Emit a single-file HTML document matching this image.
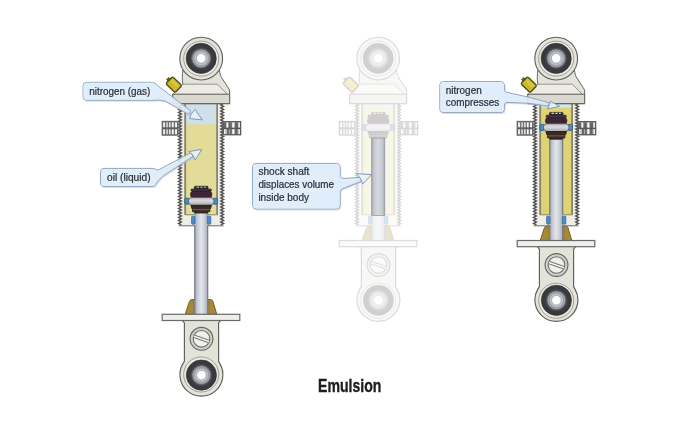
<!DOCTYPE html>
<html><head><meta charset="utf-8"><title>Emulsion</title>
<style>
html,body{margin:0;padding:0;background:#fff;}
body{width:700px;height:422px;overflow:hidden;font-family:"Liberation Sans",sans-serif;}
svg{display:block;filter:blur(0.45px);}
.lb{font-family:"Liberation Sans",sans-serif;font-size:10.4px;fill:#2b2f34;stroke:#2b2f34;stroke-width:0.22px;}
.ttl{font-family:"Liberation Sans",sans-serif;font-size:17.6px;font-weight:bold;fill:#1e1e1e;stroke:#1e1e1e;stroke-width:0.35px;}
</style></head><body>
<svg width="700" height="422" viewBox="0 0 700 422">
<defs>
<linearGradient id="gasoil1" x1="0" x2="0" y1="0" y2="1"><stop offset="0" stop-color="#cfe0ea"/><stop offset="1" stop-color="#e3dc98"/></linearGradient>
<linearGradient id="gasoil2" x1="0" x2="0" y1="0" y2="1"><stop offset="0" stop-color="#d6e6ee"/><stop offset="1" stop-color="#dfd474"/></linearGradient>

<g id="eye">
  <circle r="15.1" fill="#3a3a3e" stroke="#2c2c30" stroke-width="0.6"/>
  <circle r="11" fill="#46464b"/>
  <circle r="9.5" fill="#9b9fa7" stroke="#5e6168" stroke-width="0.9"/>
  <circle r="6.7" fill="#c0c3c9"/>
  <circle r="4.8" fill="#ffffff" stroke="#90939a" stroke-width="0.7"/>
</g>
<g id="mount">
  <path d="M-18.4,70 C-19,75 -19.2,80 -18.3,84.2 L-28.4,94.3 L-28.4,103.6 L28.4,103.6 L28.4,90 L19.8,76.6 C19.2,75.4 18.6,73 18.3,70" fill="#e3e3da" stroke="#686868" stroke-width="1"/>
  <path d="M-18.3,84.2 L16.1,84.2 L26.1,94.3 L-28.4,94.3 Z" fill="#ecece5" stroke="#808080" stroke-width="0.8"/>
  <path d="M-28.4,94.3 L28.4,94.3 L28.4,103.6 L-28.4,103.6 Z" fill="#dad9cf" stroke="#6a6a6a" stroke-width="1.1"/>
  <circle cx="0" cy="58.6" r="21.4" fill="#e3e3da" stroke="#606060" stroke-width="1.1"/>
  <circle cx="0" cy="58.6" r="17.5" fill="#ebebe4" stroke="#8c8c86" stroke-width="0.8"/>
  <use href="#eye" x="0" y="58.4"/>
</g>
<g id="valve" transform="translate(-27.4,84.6) rotate(44)">
  <rect x="-8.6" y="-1.5" width="2.6" height="3" fill="#6d6618" stroke="#4e4a18" stroke-width="0.8"/>
  <rect x="-6.5" y="-4.9" width="13" height="9.8" rx="1.6" fill="#c9b92a" stroke="#4e4a18" stroke-width="1.3"/>
  <rect x="-4.5" y="-3.3" width="9" height="3.4" rx="1" fill="#d8cb45" opacity="0.8"/>
</g><g id="nut">
<rect x="0.2" y="0.2" width="15.4" height="13.4" fill="#fafafa" stroke="#666" stroke-width="1.5"/>
<line x1="3.4" y1="0" x2="3.4" y2="13.6" stroke="#707070" stroke-width="1.4"/>
<line x1="6.3" y1="0" x2="6.3" y2="13.6" stroke="#707070" stroke-width="1.4"/>
<line x1="9.0" y1="0" x2="9.0" y2="13.6" stroke="#707070" stroke-width="1.4"/>
<line x1="12.2" y1="0" x2="12.2" y2="13.6" stroke="#707070" stroke-width="1.4"/>
<line x1="0" y1="6.9" x2="15.6" y2="6.9" stroke="#5c5c5c" stroke-width="2"/>
<rect x="3.4" y="0.9" width="2.9" height="12" fill="#888" opacity="0.25"/>
</g><g id="nutR">
<rect x="0.2" y="0.2" width="17.2" height="13" fill="#fbfbfb" stroke="#5e5e5e" stroke-width="1.4"/>
<rect x="0" y="0.8" width="2.8" height="5.8" fill="#666"/>
<rect x="5.5" y="0.8" width="3.1" height="5.8" fill="#666"/>
<rect x="11.7" y="0.8" width="3.1" height="5.8" fill="#666"/>
<rect x="3.7" y="7.4" width="2.3" height="5.2" fill="#666"/>
<rect x="6.5" y="7.4" width="2.1" height="5.2" fill="#666"/>
<rect x="11.7" y="7.4" width="2.8" height="5.2" fill="#666"/>
<line x1="0" y1="6.9" x2="17.4" y2="6.9" stroke="#555" stroke-width="1.5"/>
<line x1="2.8" y1="0" x2="2.8" y2="13.2" stroke="#6a6a6a" stroke-width="0.7"/>
<line x1="5.5" y1="0" x2="5.5" y2="13.2" stroke="#6a6a6a" stroke-width="0.7"/>
<line x1="8.6" y1="0" x2="8.6" y2="13.2" stroke="#6a6a6a" stroke-width="0.7"/>
<line x1="11.7" y1="0" x2="11.7" y2="13.2" stroke="#6a6a6a" stroke-width="0.7"/>
<line x1="14.8" y1="0" x2="14.8" y2="13.2" stroke="#6a6a6a" stroke-width="0.7"/>
</g>
<g id="bodywalls">
  <polygon points="-22.70,103.40 -19.80,104.90 -22.70,106.40 -19.80,107.90 -22.70,109.40 -19.80,110.90 -22.70,112.40 -19.80,113.90 -22.70,115.40 -19.80,116.90 -22.70,118.40 -19.80,119.90 -22.70,121.40 -19.80,122.90 -22.70,124.40 -19.80,125.90 -22.70,127.40 -19.80,128.90 -22.70,130.40 -19.80,131.90 -22.70,133.40 -19.80,134.90 -22.70,136.40 -19.80,137.90 -22.70,139.40 -19.80,140.90 -22.70,142.40 -19.80,143.90 -22.70,145.40 -19.80,146.90 -22.70,148.40 -19.80,149.90 -22.70,151.40 -19.80,152.90 -22.70,154.40 -19.80,155.90 -22.70,157.40 -19.80,158.90 -22.70,160.40 -19.80,161.90 -22.70,163.40 -19.80,164.90 -22.70,166.40 -19.80,167.90 -22.70,169.40 -19.80,170.90 -22.70,172.40 -19.80,173.90 -22.70,175.40 -19.80,176.90 -22.70,178.40 -19.80,179.90 -22.70,181.40 -19.80,182.90 -22.70,184.40 -19.80,185.90 -22.70,187.40 -19.80,188.90 -22.70,190.40 -19.80,191.90 -22.70,193.40 -19.80,194.90 -22.70,196.40 -19.80,197.90 -22.70,199.40 -19.80,200.90 -22.70,202.40 -19.80,203.90 -22.70,205.40 -19.80,206.90 -22.70,208.40 -19.80,209.90 -22.70,211.40 -19.80,212.90 -22.70,214.40 -19.80,215.90 -22.70,217.40 -19.80,218.90 -22.70,220.40 -19.80,221.90 -22.70,223.40 -19.80,224.90 -15.90,225.80 -15.90,103.40" fill="#efeee6"/>
  <polygon points="22.40,103.40 19.50,104.90 22.40,106.40 19.50,107.90 22.40,109.40 19.50,110.90 22.40,112.40 19.50,113.90 22.40,115.40 19.50,116.90 22.40,118.40 19.50,119.90 22.40,121.40 19.50,122.90 22.40,124.40 19.50,125.90 22.40,127.40 19.50,128.90 22.40,130.40 19.50,131.90 22.40,133.40 19.50,134.90 22.40,136.40 19.50,137.90 22.40,139.40 19.50,140.90 22.40,142.40 19.50,143.90 22.40,145.40 19.50,146.90 22.40,148.40 19.50,149.90 22.40,151.40 19.50,152.90 22.40,154.40 19.50,155.90 22.40,157.40 19.50,158.90 22.40,160.40 19.50,161.90 22.40,163.40 19.50,164.90 22.40,166.40 19.50,167.90 22.40,169.40 19.50,170.90 22.40,172.40 19.50,173.90 22.40,175.40 19.50,176.90 22.40,178.40 19.50,179.90 22.40,181.40 19.50,182.90 22.40,184.40 19.50,185.90 22.40,187.40 19.50,188.90 22.40,190.40 19.50,191.90 22.40,193.40 19.50,194.90 22.40,196.40 19.50,197.90 22.40,199.40 19.50,200.90 22.40,202.40 19.50,203.90 22.40,205.40 19.50,206.90 22.40,208.40 19.50,209.90 22.40,211.40 19.50,212.90 22.40,214.40 19.50,215.90 22.40,217.40 19.50,218.90 22.40,220.40 19.50,221.90 22.40,223.40 19.50,224.90 15.90,225.80 15.90,103.40" fill="#efeee6"/>
  <polyline points="-22.70,103.40 -19.80,104.90 -22.70,106.40 -19.80,107.90 -22.70,109.40 -19.80,110.90 -22.70,112.40 -19.80,113.90 -22.70,115.40 -19.80,116.90 -22.70,118.40 -19.80,119.90 -22.70,121.40 -19.80,122.90 -22.70,124.40 -19.80,125.90 -22.70,127.40 -19.80,128.90 -22.70,130.40 -19.80,131.90 -22.70,133.40 -19.80,134.90 -22.70,136.40 -19.80,137.90 -22.70,139.40 -19.80,140.90 -22.70,142.40 -19.80,143.90 -22.70,145.40 -19.80,146.90 -22.70,148.40 -19.80,149.90 -22.70,151.40 -19.80,152.90 -22.70,154.40 -19.80,155.90 -22.70,157.40 -19.80,158.90 -22.70,160.40 -19.80,161.90 -22.70,163.40 -19.80,164.90 -22.70,166.40 -19.80,167.90 -22.70,169.40 -19.80,170.90 -22.70,172.40 -19.80,173.90 -22.70,175.40 -19.80,176.90 -22.70,178.40 -19.80,179.90 -22.70,181.40 -19.80,182.90 -22.70,184.40 -19.80,185.90 -22.70,187.40 -19.80,188.90 -22.70,190.40 -19.80,191.90 -22.70,193.40 -19.80,194.90 -22.70,196.40 -19.80,197.90 -22.70,199.40 -19.80,200.90 -22.70,202.40 -19.80,203.90 -22.70,205.40 -19.80,206.90 -22.70,208.40 -19.80,209.90 -22.70,211.40 -19.80,212.90 -22.70,214.40 -19.80,215.90 -22.70,217.40 -19.80,218.90 -22.70,220.40 -19.80,221.90 -22.70,223.40 -19.80,224.90" fill="none" stroke="#505050" stroke-width="1.35"/>
  <polyline points="22.40,103.40 19.50,104.90 22.40,106.40 19.50,107.90 22.40,109.40 19.50,110.90 22.40,112.40 19.50,113.90 22.40,115.40 19.50,116.90 22.40,118.40 19.50,119.90 22.40,121.40 19.50,122.90 22.40,124.40 19.50,125.90 22.40,127.40 19.50,128.90 22.40,130.40 19.50,131.90 22.40,133.40 19.50,134.90 22.40,136.40 19.50,137.90 22.40,139.40 19.50,140.90 22.40,142.40 19.50,143.90 22.40,145.40 19.50,146.90 22.40,148.40 19.50,149.90 22.40,151.40 19.50,152.90 22.40,154.40 19.50,155.90 22.40,157.40 19.50,158.90 22.40,160.40 19.50,161.90 22.40,163.40 19.50,164.90 22.40,166.40 19.50,167.90 22.40,169.40 19.50,170.90 22.40,172.40 19.50,173.90 22.40,175.40 19.50,176.90 22.40,178.40 19.50,179.90 22.40,181.40 19.50,182.90 22.40,184.40 19.50,185.90 22.40,187.40 19.50,188.90 22.40,190.40 19.50,191.90 22.40,193.40 19.50,194.90 22.40,196.40 19.50,197.90 22.40,199.40 19.50,200.90 22.40,202.40 19.50,203.90 22.40,205.40 19.50,206.90 22.40,208.40 19.50,209.90 22.40,211.40 19.50,212.90 22.40,214.40 19.50,215.90 22.40,217.40 19.50,218.90 22.40,220.40 19.50,221.90 22.40,223.40 19.50,224.90" fill="none" stroke="#505050" stroke-width="1.35"/>
  <line x1="-15.9" y1="103.4" x2="-15.9" y2="215" stroke="#86846a" stroke-width="1.6"/>
  <line x1="15.9" y1="103.4" x2="15.9" y2="215" stroke="#86846a" stroke-width="1.6"/>
</g>
<g id="bodycap">
  <rect x="-15.9" y="214.8" width="10" height="11.0" fill="#efeee6"/>
  <rect x="6.2" y="214.8" width="10" height="11.0" fill="#efeee6"/>
  <rect x="-9.6" y="216.2" width="3.4" height="8" rx="0.8" fill="#4a8fc9" stroke="#2d5f96" stroke-width="0.7"/>
  <rect x="6.2" y="216.2" width="3.4" height="8" rx="0.8" fill="#4a8fc9" stroke="#2d5f96" stroke-width="0.7"/>
  <line x1="-22.7" y1="225.8" x2="-6" y2="225.8" stroke="#6a6a6a" stroke-width="1"/>
  <line x1="6" y1="225.8" x2="22.4" y2="225.8" stroke="#6a6a6a" stroke-width="1"/>
  <line x1="-15.9" y1="214.8" x2="-6" y2="214.8" stroke="#86846a" stroke-width="1"/>
  <line x1="6" y1="214.8" x2="15.9" y2="214.8" stroke="#86846a" stroke-width="1"/>
</g>
<linearGradient id="shaftg" x1="0" x2="1" y1="0" y2="0">
  <stop offset="0" stop-color="#a6a9b2"/><stop offset="0.22" stop-color="#c8ccd4"/><stop offset="0.5" stop-color="#e2e5eb"/><stop offset="0.78" stop-color="#c8ccd4"/><stop offset="1" stop-color="#a6a9b2"/>
</linearGradient>
<linearGradient id="shaftd" x1="0" x2="1" y1="0" y2="0">
  <stop offset="0" stop-color="#a0a3ab"/><stop offset="0.15" stop-color="#c4c7ce"/><stop offset="0.5" stop-color="#d5d8de"/><stop offset="0.85" stop-color="#c4c7ce"/><stop offset="1" stop-color="#a0a3ab"/>
</linearGradient>
<linearGradient id="bandg" x1="0" x2="0" y1="0" y2="1">
  <stop offset="0" stop-color="#b8b8bc"/><stop offset="0.4" stop-color="#dcdcde"/><stop offset="1" stop-color="#a8a8ac"/>
</linearGradient>
<g id="shaft">
  <rect x="-6.45" y="10" width="12.9" height="103.5" fill="url(#shaftg)" stroke="#7c7f87" stroke-width="1.3"/>
</g>
<g id="piston">
  <rect x="-6.8" y="-15.2" width="13.6" height="3.2" rx="0.8" fill="#2e2a2e" stroke="#1f1a1e" stroke-width="0.6"/>
  <path d="M-4.6,-14.2 h2.4 M-0.8,-14.2 h2.2 M2.8,-14.2 h1.8" stroke="#c9c9c9" stroke-width="1.1" fill="none"/>
  <rect x="-10.2" y="-12.3" width="20.4" height="2" rx="0.9" fill="#5a4a52" stroke="#1f1a1e" stroke-width="0.8"/>
  <path d="M-8.6,-10.4 L8.6,-10.4 C10.6,-9.4 11,-7 10.4,-5.6 C10.2,-4.6 9.8,-4 9.2,-3.4 L-9.2,-3.4 C-9.8,-4 -10.2,-4.6 -10.4,-5.6 C-11,-7 -10.6,-9.4 -8.6,-10.4 Z" fill="#3d2438" stroke="#1f1a1e" stroke-width="0.8"/>
  <rect x="-16.4" y="-3.2" width="4.6" height="6" rx="1" fill="#4a8fc4" stroke="#2a557f" stroke-width="0.8"/>
  <rect x="11.8" y="-3.2" width="4.6" height="6" rx="1" fill="#4a8fc4" stroke="#2a557f" stroke-width="0.8"/>
  <path d="M-10,-3.9 L10,-3.9 C12.2,-3 12.8,-1 12.8,0 C12.8,1 12.2,3 10,3.9 L-10,3.9 C-12.2,3 -12.8,1 -12.8,0 C-12.8,-1 -12.2,-3 -10,-3.9 Z" fill="url(#bandg)" stroke="#55555a" stroke-width="0.9"/>
  <path d="M-10.2,3.9 L10.2,3.9 C10,6 9.2,7.6 8.6,8.2 L8.8,10.2 L6.4,10.4 L6.2,11.6 L-6.2,11.6 L-6.4,10.4 L-8.8,10.2 L-8.6,8.2 C-9.2,7.6 -10,6 -10.2,3.9 Z" fill="#3a2a26" stroke="#1f1a1e" stroke-width="0.8"/>
  <line x1="-8.4" y1="8.3" x2="8.4" y2="8.3" stroke="#8a7440" stroke-width="0.8"/>
</g>
<g id="lower" transform="translate(0,0.5)">
  <path d="M-16,112.4 L-11.8,99.6 Q-11.2,97.6 -9,97.6 L9,97.6 Q11.2,97.6 11.8,99.6 L15.6,112.4 Z" fill="#a68a38" stroke="#6a5a24" stroke-width="0.9"/>
  <path d="M-9.6,98 C-8.6,101 -8,106 -8.2,112.4 L8.2,112.4 C8,106 8.6,101 9.6,98 Z" fill="#8f7629" opacity="0.5"/>
</g>

</defs>
<rect width="700" height="422" fill="#ffffff"/>
<g transform="translate(201.2,0)">
<use href="#bodywalls"/>
<rect x="-15.3" y="103.4" width="30.6" height="111.6" fill="#e3dc98"/>
<rect x="-15.3" y="103.4" width="30.6" height="20.799999999999997" fill="#cfe0ea"/>
<rect x="-15.3" y="123.2" width="30.6" height="2" fill="url(#gasoil1)"/>
<line x1="-15.9" y1="103.4" x2="-15.9" y2="215" stroke="#86846a" stroke-width="1.6"/>
<line x1="15.9" y1="103.4" x2="15.9" y2="215" stroke="#86846a" stroke-width="1.6"/>
<g transform="translate(0,201.4)"><use href="#lower"/><use href="#shaft"/><use href="#piston"/></g>
<use href="#bodycap"/>
<g transform="translate(0,201.4)"><g transform="translate(0,0.5)">
  <path d="M-19.2,118 L-16.8,121 L-16.8,159.4 Q-17.2,160.4 -18.4,162.0 A21.5,21.5 0 1 0 18.8,162.0 Q17.8,160.4 17.4,159.4 L17.4,121 L19.8,118 Z" fill="#e3e3da" stroke="#5e5e5e" stroke-width="1.15"/>
  <circle cx="0" cy="172.6" r="17.5" fill="#ebebe4" stroke="#8c8c86" stroke-width="0.8"/>
  <use href="#eye" x="0.2" y="173.2"/>
  <rect x="-39" y="112.4" width="77.6" height="6.2" fill="#efefe9" stroke="#6a6a6a" stroke-width="1.2"/>
  <g transform="translate(0.3,136.9)">
    <circle r="11.4" fill="#d0d0c8" stroke="#646464" stroke-width="1.1"/>
    <circle r="8.3" fill="#efefeb" stroke="#6c6c6c" stroke-width="1.1"/>
    <path d="M-7.2,-2.4 L7.2,2.6" stroke="#6a6a6a" stroke-width="3.3" fill="none"/>
    <path d="M-7.6,-2.55 L7.6,2.75" stroke="#f4f4f0" stroke-width="1.5" fill="none"/>
  </g>
</g></g>
<use href="#nut" x="-39" y="121.4"/>
<use href="#nutR" x="22" y="121.5"/>
<use href="#mount"/>
<use href="#valve"/>
</g><g transform="translate(378.2,0)" opacity="0.23">
<use href="#bodywalls"/>
<rect x="-15.3" y="103.4" width="30.6" height="111.6" fill="#e3dc98"/>
<rect x="-15.3" y="103.4" width="30.6" height="4.199999999999989" fill="#cfe0ea"/>
<rect x="-15.3" y="106.6" width="30.6" height="2" fill="url(#gasoil1)"/>
<line x1="-15.9" y1="103.4" x2="-15.9" y2="215" stroke="#86846a" stroke-width="1.6"/>
<line x1="15.9" y1="103.4" x2="15.9" y2="215" stroke="#86846a" stroke-width="1.6"/>
<g transform="translate(0,127.6)"><use href="#lower"/><use href="#shaft"/><use href="#piston"/></g>
<use href="#bodycap"/>
<g transform="translate(0,127.6)"><g transform="translate(0,0.5)">
  <path d="M-19.2,118 L-16.8,121 L-16.8,158.4 Q-17.2,159.4 -18.4,161.0 A21.5,21.5 0 1 0 18.8,161.0 Q17.8,159.4 17.4,158.4 L17.4,121 L19.8,118 Z" fill="#e3e3da" stroke="#5e5e5e" stroke-width="1.15"/>
  <circle cx="0" cy="172.6" r="17.5" fill="#ebebe4" stroke="#8c8c86" stroke-width="0.8"/>
  <use href="#eye" x="0.2" y="172.2"/>
  <rect x="-39" y="112.4" width="77.6" height="6.2" fill="#efefe9" stroke="#6a6a6a" stroke-width="1.2"/>
  <g transform="translate(0.3,136.9)">
    <circle r="11.4" fill="#d0d0c8" stroke="#646464" stroke-width="1.1"/>
    <circle r="8.3" fill="#efefeb" stroke="#6c6c6c" stroke-width="1.1"/>
    <path d="M-7.2,-2.4 L7.2,2.6" stroke="#6a6a6a" stroke-width="3.3" fill="none"/>
    <path d="M-7.6,-2.55 L7.6,2.75" stroke="#f4f4f0" stroke-width="1.5" fill="none"/>
  </g>
</g></g>
<use href="#nut" x="-39" y="121.4"/>
<use href="#nutR" x="22" y="121.5"/>
<use href="#mount"/>
<use href="#valve"/>
</g><rect x="371.7" y="138" width="13" height="77.4" fill="url(#shaftd)" stroke="#999ca4" stroke-width="0.8"/><g transform="translate(556.2,0)">
<use href="#bodywalls"/>
<rect x="-15.3" y="103.4" width="30.6" height="111.6" fill="#dfd474"/>
<rect x="-15.3" y="103.4" width="30.6" height="4.199999999999989" fill="#d6e6ee"/>
<rect x="-15.3" y="106.6" width="30.6" height="2" fill="url(#gasoil2)"/>
<line x1="-15.9" y1="103.4" x2="-15.9" y2="215" stroke="#86846a" stroke-width="1.6"/>
<line x1="15.9" y1="103.4" x2="15.9" y2="215" stroke="#86846a" stroke-width="1.6"/>
<g transform="translate(0,127.6)"><use href="#lower"/><use href="#shaft"/><use href="#piston"/></g>
<use href="#bodycap"/>
<g transform="translate(0,127.6)"><g transform="translate(0,0.5)">
  <path d="M-19.2,118 L-16.8,121 L-16.8,158.4 Q-17.2,159.4 -18.4,161.0 A21.5,21.5 0 1 0 18.8,161.0 Q17.8,159.4 17.4,158.4 L17.4,121 L19.8,118 Z" fill="#e3e3da" stroke="#5e5e5e" stroke-width="1.15"/>
  <circle cx="0" cy="172.6" r="17.5" fill="#ebebe4" stroke="#8c8c86" stroke-width="0.8"/>
  <use href="#eye" x="0.2" y="172.2"/>
  <rect x="-39" y="112.4" width="77.6" height="6.2" fill="#efefe9" stroke="#6a6a6a" stroke-width="1.2"/>
  <g transform="translate(0.3,136.9)">
    <circle r="11.4" fill="#d0d0c8" stroke="#646464" stroke-width="1.1"/>
    <circle r="8.3" fill="#efefeb" stroke="#6c6c6c" stroke-width="1.1"/>
    <path d="M-7.2,-2.4 L7.2,2.6" stroke="#6a6a6a" stroke-width="3.3" fill="none"/>
    <path d="M-7.6,-2.55 L7.6,2.75" stroke="#f4f4f0" stroke-width="1.5" fill="none"/>
  </g>
</g></g>
<use href="#nut" x="-39" y="121.4"/>
<use href="#nutR" x="22" y="121.5"/>
<use href="#mount"/>
<use href="#valve"/>
</g>
<g>
<path d="M86.5,82.3 L151.5,82.3 Q156,82.8 158.4,86.2 L190.6,110.8 L188.8,114.4 L165,101 Q160,99.6 151.5,100.3 L86.5,100.3 Q83,100.3 83,96.8 L83,85.8 Q83,82.3 86.5,82.3 Z" transform="translate(1.2,1.5)" fill="#aab6c2" opacity="0.4"/>
<path d="M86.5,82.3 L151.5,82.3 Q156,82.8 158.4,86.2 L190.6,110.8 L188.8,114.4 L165,101 Q160,99.6 151.5,100.3 L86.5,100.3 Q83,100.3 83,96.8 L83,85.8 Q83,82.3 86.5,82.3 Z" fill="#e0edfa" fill-opacity="0.9" stroke="#8fa6be" stroke-width="1" stroke-linejoin="round"/>
<rect x="83.5" y="82.8" width="71" height="17" rx="3" fill="#e0edfa"/>
<path d="M195,109.4 L202.3,119.9 L189.5,118.6 L191.2,114 Z" fill="#e9f1f9" fill-opacity="0.92" stroke="#7f9ab6" stroke-width="1" stroke-linejoin="round"/>
<text x="89.2" y="94.8" class="lb" textLength="61" lengthAdjust="spacingAndGlyphs">nitrogen (gas)</text>
</g><g>
<path d="M104.0,168.4 L152,168.4 Q156,168.8 158,170.2 L191.2,152.6 L193,156.4 L163.7,175.6 Q158,180 155.6,184.6 Q154.6,186.4 152,186.6 L104.0,186.6 Q100.5,186.6 100.5,183.1 L100.5,171.9 Q100.5,168.4 104.0,168.4 Z" transform="translate(1.2,1.5)" fill="#aab6c2" opacity="0.4"/>
<path d="M104.0,168.4 L152,168.4 Q156,168.8 158,170.2 L191.2,152.6 L193,156.4 L163.7,175.6 Q158,180 155.6,184.6 Q154.6,186.4 152,186.6 L104.0,186.6 Q100.5,186.6 100.5,183.1 L100.5,171.9 Q100.5,168.4 104.0,168.4 Z" fill="#e0edfa" fill-opacity="0.9" stroke="#8fa6be" stroke-width="1" stroke-linejoin="round"/>
<rect x="101.0" y="168.9" width="54" height="17.2" rx="3" fill="#e0edfa"/>
<path d="M188.6,151.6 L201.8,149.4 L195.2,160.2 L192.6,154.6 Z" fill="#e9f1f9" fill-opacity="0.92" stroke="#7f9ab6" stroke-width="1" stroke-linejoin="round"/>
<text x="107" y="181.1" class="lb" textLength="43.6" lengthAdjust="spacingAndGlyphs">oil (liquid)</text>
</g><g>
<path d="M256.1,163.4 L336.5,163.4 Q340.1,163.4 340.1,167 L340.1,176.6 Q341,178.4 343.6,178.5 L360.4,177.4 L361.8,181 L342.4,188.8 Q340.1,189.8 340.1,192 L340.1,205.4 Q340.1,209 336.5,209 L256.1,209.0 Q252.6,209.0 252.6,205.5 L252.6,166.9 Q252.6,163.4 256.1,163.4 Z" transform="translate(1.2,1.5)" fill="#aab6c2" opacity="0.4"/>
<path d="M256.1,163.4 L336.5,163.4 Q340.1,163.4 340.1,167 L340.1,176.6 Q341,178.4 343.6,178.5 L360.4,177.4 L361.8,181 L342.4,188.8 Q340.1,189.8 340.1,192 L340.1,205.4 Q340.1,209 336.5,209 L256.1,209.0 Q252.6,209.0 252.6,205.5 L252.6,166.9 Q252.6,163.4 256.1,163.4 Z" fill="#e0edfa" fill-opacity="0.9" stroke="#8fa6be" stroke-width="1" stroke-linejoin="round"/>
<rect x="253.1" y="163.9" width="86.5" height="44.6" rx="3" fill="#e0edfa"/>
<path d="M356.4,173.6 L371.6,174.6 L362.6,184.2 L360.8,179 Z" fill="#e9f1f9" fill-opacity="0.92" stroke="#7f9ab6" stroke-width="1" stroke-linejoin="round"/>
<text x="258.4" y="175.2" class="lb" textLength="51" lengthAdjust="spacingAndGlyphs">shock shaft</text>
<text x="258.4" y="188.3" class="lb" textLength="75.6" lengthAdjust="spacingAndGlyphs">displaces volume</text>
<text x="258.4" y="201.3" class="lb" textLength="50.6" lengthAdjust="spacingAndGlyphs">inside body</text>
</g><g>
<path d="M443.3,81.6 L500.8,81.6 Q504.4,81.6 504.4,85.2 L504.4,90 Q505,91.8 507,92.4 L528.6,97.2 L549.6,102.9 L547.8,106 L528.6,103.3 L507,102.4 Q504.4,103 504.4,105 L504.4,109 Q504.4,112.6 500.8,112.6 L443.3,112.6 Q439.8,112.6 439.8,109.1 L439.8,85.1 Q439.8,81.6 443.3,81.6 Z" transform="translate(1.2,1.5)" fill="#aab6c2" opacity="0.4"/>
<path d="M443.3,81.6 L500.8,81.6 Q504.4,81.6 504.4,85.2 L504.4,90 Q505,91.8 507,92.4 L528.6,97.2 L549.6,102.9 L547.8,106 L528.6,103.3 L507,102.4 Q504.4,103 504.4,105 L504.4,109 Q504.4,112.6 500.8,112.6 L443.3,112.6 Q439.8,112.6 439.8,109.1 L439.8,85.1 Q439.8,81.6 443.3,81.6 Z" fill="#e0edfa" fill-opacity="0.9" stroke="#8fa6be" stroke-width="1" stroke-linejoin="round"/>
<rect x="440.3" y="82.1" width="63.599999999999994" height="30" rx="3" fill="#e0edfa"/>
<path d="M550.6,101.4 L559.6,106.3 L547.6,109 L549.2,104.8 Z" fill="#e9f1f9" fill-opacity="0.92" stroke="#7f9ab6" stroke-width="1" stroke-linejoin="round"/>
<text x="445.8" y="93.6" class="lb" textLength="35.9" lengthAdjust="spacingAndGlyphs">nitrogen</text>
<text x="445.8" y="106" class="lb" textLength="53.4" lengthAdjust="spacingAndGlyphs">compresses</text>
</g>
<text class="ttl" transform="translate(318,391.8) scale(0.8,1.02)">Emulsion</text>
</svg>
</body></html>
